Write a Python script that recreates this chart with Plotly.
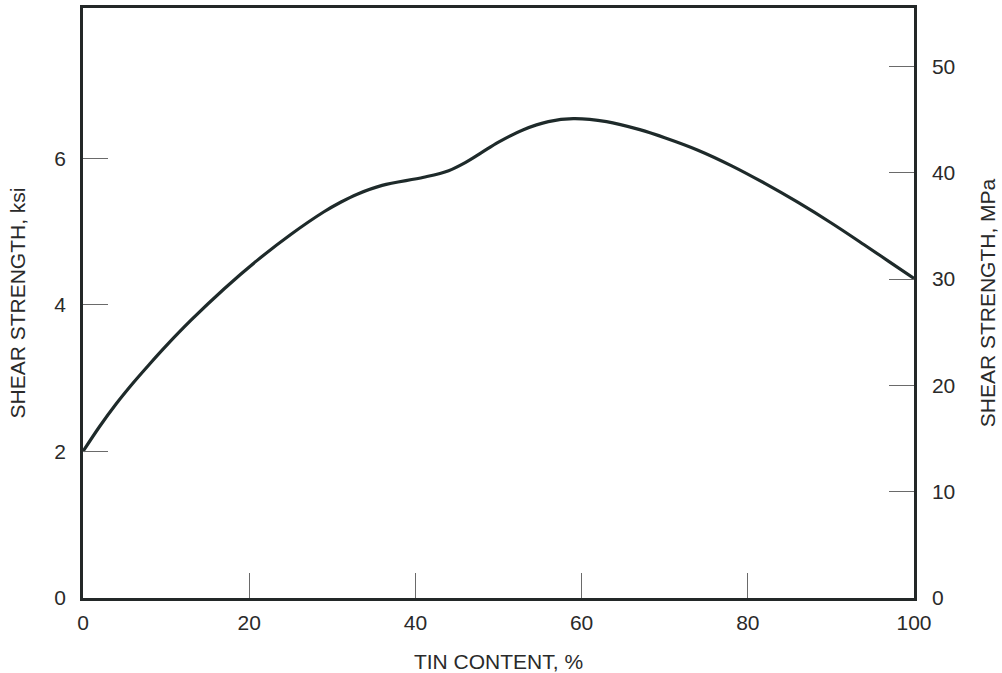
import plotly.graph_objects as go

# Data (tin content %, shear strength ksi)
tin_pct = [0, 2, 4, 6, 8, 10, 13, 17, 21, 25, 29, 31, 33, 36, 41, 44, 46,
           48, 50, 53, 56, 59, 63, 67, 70, 74, 78, 82, 86, 90, 94, 97, 100]
shear_ksi = [2.00, 2.34, 2.65, 2.93, 3.19, 3.44, 3.79, 4.22, 4.61, 4.96, 5.27,
             5.40, 5.51, 5.63, 5.74, 5.83, 5.94, 6.08, 6.22, 6.39, 6.50,
             6.54, 6.50, 6.39, 6.28, 6.11, 5.90, 5.66, 5.40, 5.12, 4.82, 4.59,
             4.36]

x_ticks = [0, 20, 40, 60, 80, 100]
ksi_ticks = [0, 2, 4, 6]
mpa_ticks = [0, 10, 20, 30, 40, 50]

KSI_TO_MPA = 6.895
ksi_max = 8.05

font_family = "Liberation Sans, Arial, sans-serif"
axis_col = "#232828"
tick_col = "#6a6a6a"
text_col = "#2a2a2a"

fig = go.Figure()
fig.add_trace(go.Scatter(
    x=tin_pct, y=shear_ksi, mode="lines",
    line=dict(color="#1e2a2a", width=3.2, shape="spline", smoothing=1.0),
    showlegend=False, hoverinfo="skip",
))
# invisible trace to activate secondary axis
fig.add_trace(go.Scatter(
    x=[0, 100], y=[0, ksi_max * KSI_TO_MPA], yaxis="y2", mode="lines",
    line=dict(width=0), opacity=0, showlegend=False, hoverinfo="skip",
))

title_font = dict(size=21, family=font_family, color=text_col)

fig.update_layout(
    width=1002, height=673,
    margin=dict(l=83, r=88, t=8, b=75, autoexpand=False),
    paper_bgcolor="white", plot_bgcolor="white",
    font=dict(family=font_family, size=21, color=text_col),
    xaxis=dict(
        range=[0, 100], tickvals=x_ticks, ticks="inside", ticklen=25,
        tickwidth=1, tickcolor=tick_col, showgrid=False, zeroline=False,
        showline=True, linecolor=axis_col, linewidth=2.5, mirror=True,
        ticklabelstandoff=4, automargin=False,
        title=dict(text="TIN CONTENT, %", standoff=24, font=title_font),
    ),
    yaxis=dict(
        range=[0, ksi_max], tickvals=ksi_ticks, ticks="inside", ticklen=25,
        tickwidth=1, tickcolor=tick_col, showgrid=False, zeroline=False,
        showline=True, linecolor=axis_col, linewidth=2.5,
        ticklabelstandoff=10, automargin=False,
        title=dict(text="SHEAR STRENGTH, ksi", standoff=24, font=title_font),
    ),
    yaxis2=dict(
        range=[0, ksi_max * KSI_TO_MPA], tickvals=mpa_ticks, ticks="inside",
        ticklen=25, tickwidth=1, tickcolor=tick_col, showgrid=False,
        zeroline=False, showline=True, linecolor=axis_col, linewidth=2.5,
        overlaying="y", side="right", ticklabelstandoff=11, automargin=False,
        title=dict(text="SHEAR STRENGTH, MPa", standoff=26, font=title_font),
    ),
)

fig.write_html("out.html")
